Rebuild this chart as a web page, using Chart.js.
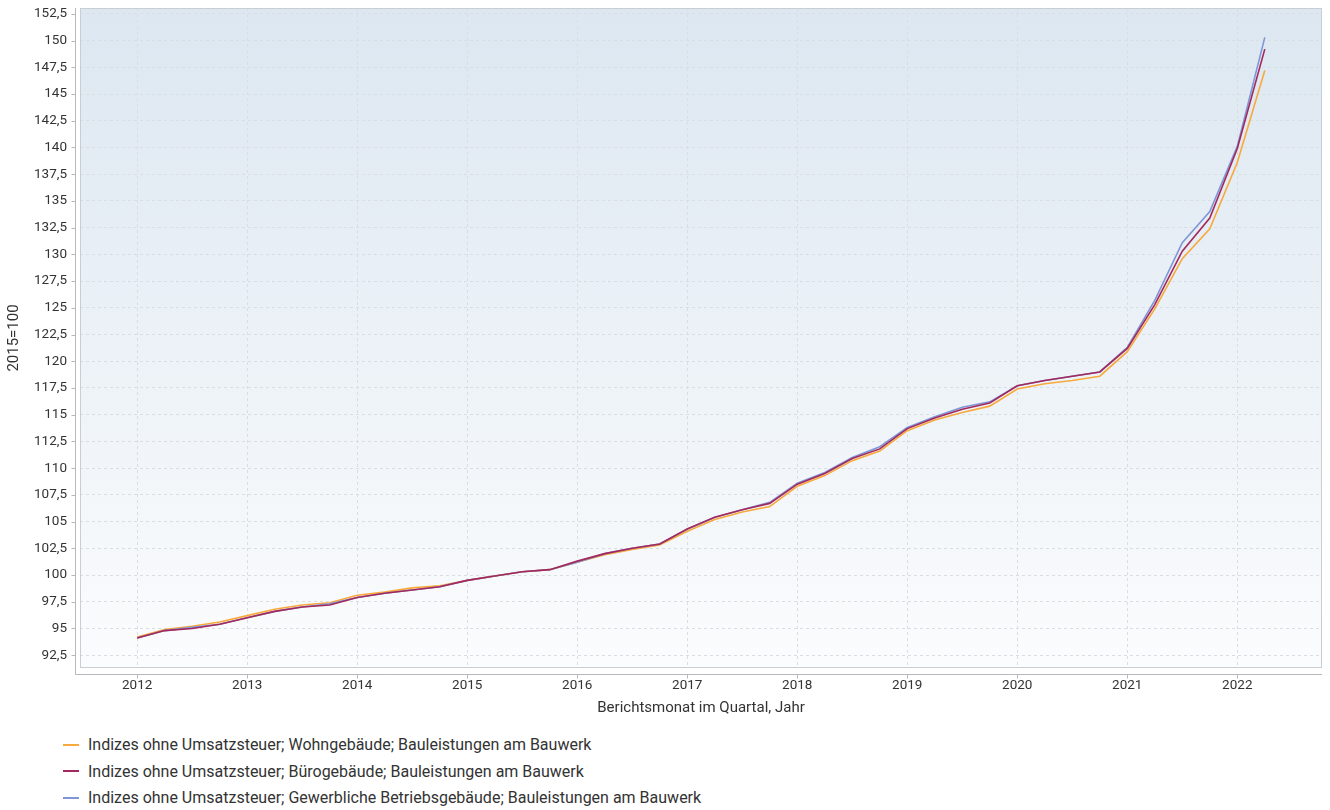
<!DOCTYPE html>
<html lang="de">
<head>
<meta charset="utf-8">
<title>Baupreisindizes</title>
<script src="https://cdn.jsdelivr.net/npm/chart.js@4.4.0/dist/chart.umd.min.js"></script>
<style>
  body { margin: 0; background: #fff; font-family: Roboto, "Noto Sans", sans-serif; }
  #wrap { position: relative; width: 1330px; height: 810px; }
  #chart { position: absolute; left: 0; top: 0; }
  #legend { position: absolute; left: 63px; top: 733px; color: #333; font-size: 16px; }
  .item { height: 26.5px; line-height: 24px; white-space: nowrap; }
  .swatch { display: inline-block; width: 16px; height: 2px; vertical-align: middle; margin-right: 9px; position: relative; top: -1px; }
</style>
</head>
<body>
<div id="wrap">
  <canvas id="chart" width="1330" height="720"></canvas>
  <div id="legend"></div>
</div>
<script>
// Quarter labels (Berichtsmonat im Quartal), 2012 Q1 .. 2022 Q2
const quarters = [
  '2012 Q1','2012 Q2','2012 Q3','2012 Q4',
  '2013 Q1','2013 Q2','2013 Q3','2013 Q4',
  '2014 Q1','2014 Q2','2014 Q3','2014 Q4',
  '2015 Q1','2015 Q2','2015 Q3','2015 Q4',
  '2016 Q1','2016 Q2','2016 Q3','2016 Q4',
  '2017 Q1','2017 Q2','2017 Q3','2017 Q4',
  '2018 Q1','2018 Q2','2018 Q3','2018 Q4',
  '2019 Q1','2019 Q2','2019 Q3','2019 Q4',
  '2020 Q1','2020 Q2','2020 Q3','2020 Q4',
  '2021 Q1','2021 Q2','2021 Q3','2021 Q4',
  '2022 Q1','2022 Q2'
];

// Index values, 2015=100
const wohngebaeude = [
  94.2, 94.9, 95.2, 95.6,
  96.2, 96.8, 97.2, 97.4,
  98.1, 98.4, 98.8, 99.0,
  99.5, 99.9, 100.3, 100.5,
  101.2, 101.9, 102.4, 102.8,
  104.1, 105.2, 105.9, 106.4,
  108.3, 109.3, 110.7, 111.6,
  113.5, 114.5, 115.2, 115.8,
  117.4, 117.9, 118.2, 118.6,
  120.9, 124.9, 129.6, 132.4,
  138.6, 147.2
];
const buerogebaeude = [
  94.1, 94.8, 95.0, 95.4,
  96.0, 96.6, 97.0, 97.2,
  97.9, 98.3, 98.6, 98.9,
  99.5, 99.9, 100.3, 100.5,
  101.3, 102.0, 102.5, 102.9,
  104.3, 105.4, 106.1, 106.7,
  108.5, 109.5, 110.9, 111.8,
  113.7, 114.7, 115.5, 116.1,
  117.7, 118.2, 118.6, 119.0,
  121.2, 125.3, 130.3, 133.4,
  139.9, 149.2
];
const betriebsgebaeude = [
  94.1, 94.8, 95.1, 95.4,
  96.0, 96.6, 97.0, 97.3,
  97.9, 98.3, 98.6, 98.9,
  99.5, 99.9, 100.3, 100.5,
  101.2, 102.0, 102.5, 102.9,
  104.3, 105.4, 106.1, 106.8,
  108.6, 109.6, 111.0, 112.0,
  113.8, 114.8, 115.7, 116.2,
  117.7, 118.2, 118.6, 119.0,
  121.3, 125.7, 131.1, 134.0,
  140.1, 150.3
];

const seriesNames = [
  'Indizes ohne Umsatzsteuer; Wohngebäude; Bauleistungen am Bauwerk',
  'Indizes ohne Umsatzsteuer; Bürogebäude; Bauleistungen am Bauwerk',
  'Indizes ohne Umsatzsteuer; Gewerbliche Betriebsgebäude; Bauleistungen am Bauwerk'
];
const seriesColors = ['#f7a93b', '#a3285c', '#7f97d8'];

// quarter label -> position on the year axis
function quarterPos(label) {
  const [y, q] = label.split(' Q');
  return Number(y) + (Number(q) - 1) / 4;
}
function toPoints(values) {
  return values.map((v, i) => ({ x: quarterPos(quarters[i]), y: v }));
}
function deNumber(v) {
  return String(Math.round(v * 10) / 10).replace('.', ',');
}

// Background gradient, plot frame and the offset axis lines
const frame = {
  id: 'frame',
  beforeDraw(chart) {
    const { ctx, chartArea: a } = chart;
    const g = ctx.createLinearGradient(0, a.top, 0, a.bottom);
    g.addColorStop(0, '#dce7f1');
    g.addColorStop(1, '#fbfcfd');
    ctx.save();
    ctx.fillStyle = g;
    ctx.fillRect(a.left, a.top, a.right - a.left, a.bottom - a.top);
    ctx.restore();
  },
  afterDraw(chart) {
    const { ctx, chartArea: a, scales } = chart;
    ctx.save();
    ctx.strokeStyle = '#c9ced3';
    ctx.lineWidth = 1;
    ctx.strokeRect(a.left + 0.5, a.top + 0.5, a.right - a.left - 1, a.bottom - a.top - 1);

    ctx.strokeStyle = '#b5b9bd';
    const axX = a.left - 4.5, axY = a.bottom + 6.5;
    ctx.beginPath();
    ctx.moveTo(axX, a.top);
    ctx.lineTo(axX, axY);
    ctx.moveTo(axX, axY);
    ctx.lineTo(a.right, axY);
    scales.y.ticks.forEach(t => {
      const p = Math.round(scales.y.getPixelForValue(t.value)) + 0.5;
      ctx.moveTo(axX - 4, p);
      ctx.lineTo(axX, p);
    });
    scales.x.ticks.forEach(t => {
      const p = Math.round(scales.x.getPixelForValue(t.value)) + 0.5;
      ctx.moveTo(p, axY);
      ctx.lineTo(p, axY + 4);
    });
    ctx.stroke();
    ctx.restore();
  }
};

const ctx = document.getElementById('chart');
const datasets = [wohngebaeude, buerogebaeude, betriebsgebaeude].map((vals, i) => ({
  label: seriesNames[i],
  data: toPoints(vals),
  borderColor: seriesColors[i],
  backgroundColor: seriesColors[i],
  borderWidth: 1.6,
  pointRadius: 0,
  tension: 0,
  order: [3, 1, 2][i]
}));

new Chart(ctx, {
  type: 'line',
  data: { datasets },
  options: {
    responsive: false,
    animation: false,
    layout: { padding: { top: 8, right: 8, left: 0, bottom: 0 } },
    plugins: { legend: { display: false }, tooltip: { enabled: false } },
    scales: {
      x: {
        type: 'linear',
        min: 2011.48,
        max: 2022.77,
        afterFit: s => { s.height = 52; s.paddingLeft = 0; s.paddingRight = 0; },
        ticks: {
          stepSize: 1,
          includeBounds: false,
          padding: 10,
          color: '#333',
          font: { family: 'Roboto', size: 13.5 },
          callback: v => String(v)
        },
        grid: { color: '#d9dee3', drawTicks: false },
        border: { display: false, dash: [3, 3] },
        title: {
          display: true,
          text: 'Berichtsmonat im Quartal, Jahr',
          color: '#333',
          font: { family: 'Roboto', size: 15 },
          padding: { top: 2, bottom: 3 }
        }
      },
      y: {
        min: 91.3,
        max: 153.05,
        afterFit: s => { s.width = 80; s.paddingTop = 0; s.paddingBottom = 0; },
        ticks: {
          stepSize: 2.5,
          includeBounds: false,
          padding: 13,
          color: '#333',
          font: { family: 'Roboto', size: 13.5 },
          callback: v => deNumber(v)
        },
        grid: { color: '#d9dee3', drawTicks: false },
        border: { display: false, dash: [3, 3] },
        title: {
          display: true,
          text: '2015=100',
          color: '#333',
          font: { family: 'Roboto', size: 15 },
          padding: { top: 5, bottom: 0 }
        }
      }
    }
  },
  plugins: [frame]
});

// Vertical legend below the chart
const legend = document.getElementById('legend');
seriesNames.forEach((name, i) => {
  const row = document.createElement('div');
  row.className = 'item';
  row.innerHTML = '<span class="swatch" style="background:' + seriesColors[i] + '"></span>' + name;
  legend.appendChild(row);
});
</script>
</body>
</html>
